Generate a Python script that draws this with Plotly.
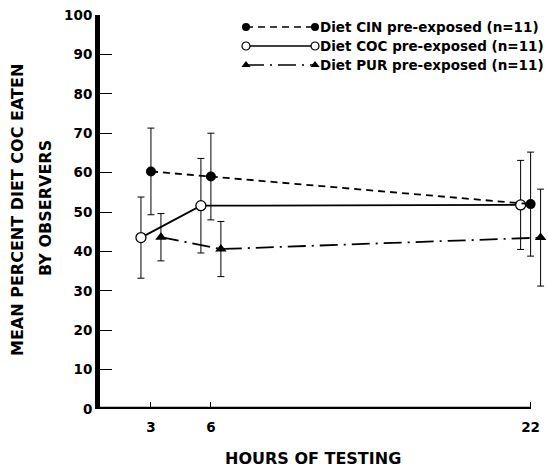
import plotly.graph_objects as go

# ---- data ----
hours = [3, 6, 22]
hour_labels = ["3", "6", "22"]

cin_mean = [60.3, 59.0, 52.0]
cin_err = [11.0, 11.0, 13.2]

coc_mean = [43.5, 51.6, 51.8]
coc_err = [10.3, 12.0, 11.3]

pur_mean = [43.6, 40.6, 43.5]
pur_err = [6.0, 7.0, 12.3]

y_ticks = list(range(0, 101, 10))

series_names = [
    "Diet CIN pre-exposed (n=11)",
    "Diet COC pre-exposed (n=11)",
    "Diet PUR pre-exposed (n=11)",
]

FONT = "DejaVu Sans"
BLACK = "#000000"
DASH_CIN = "7px,5px"
DASH_PUR = "18px,6px,2px,6px"

fig = go.Figure()

common_err = dict(type="data", visible=True, color=BLACK, thickness=1, width=3.5)

# order: COC (left), CIN (center), PUR (right) within each hour group
fig.add_trace(go.Scatter(
    x=hours, y=coc_mean, name=series_names[1], mode="lines+markers",
    line=dict(color=BLACK, width=1.8, dash="solid"),
    marker=dict(symbol="circle", size=10, color="white", line=dict(color=BLACK, width=1.3)),
    error_y=dict(array=coc_err, **common_err),
    offsetgroup="coc", alignmentgroup="g", showlegend=False, cliponaxis=False,
))
fig.add_trace(go.Scatter(
    x=hours, y=cin_mean, name=series_names[0], mode="lines+markers",
    line=dict(color=BLACK, width=1.8, dash=DASH_CIN),
    marker=dict(symbol="circle", size=10, color=BLACK),
    error_y=dict(array=cin_err, **common_err),
    offsetgroup="cin", alignmentgroup="g", showlegend=False, cliponaxis=False,
))
fig.add_trace(go.Scatter(
    x=hours, y=pur_mean, name=series_names[2], mode="lines+markers",
    line=dict(color=BLACK, width=1.8, dash=DASH_PUR),
    marker=dict(symbol="triangle-up", size=10, color=BLACK),
    error_y=dict(array=pur_err, **common_err),
    offsetgroup="pur", alignmentgroup="g", showlegend=False, cliponaxis=False,
))

# ---- custom legend drawn on an overlay axis in page-pixel units ----
leg_rows = [27, 46, 65]
leg_x0, leg_x1, leg_text_x = 246, 315, 318
leg_styles = [
    dict(line=dict(color=BLACK, width=1.5, dash=DASH_CIN),
         marker=dict(symbol="circle", size=8, color=BLACK)),
    dict(line=dict(color=BLACK, width=1.5, dash="solid"),
         marker=dict(symbol="circle", size=8, color="white", line=dict(color=BLACK, width=1.2))),
    dict(line=dict(color=BLACK, width=1.5, dash=DASH_PUR),
         marker=dict(symbol="triangle-up", size=8, color=BLACK)),
]
for row_y, style, label in zip(leg_rows, leg_styles, series_names):
    fig.add_trace(go.Scatter(
        x=[leg_x0, leg_x1], y=[row_y, row_y], mode="lines+markers",
        xaxis="x2", yaxis="y2", showlegend=False, hoverinfo="skip",
        offsetgroup="leg", alignmentgroup="leg",
        cliponaxis=False, **style,
    ))
    fig.add_annotation(
        x=leg_text_x, y=row_y, xref="x2", yref="y2", text=label,
        showarrow=False, xanchor="left", yanchor="middle",
        font=dict(family=FONT, size=13.5, color=BLACK, weight="bold"),
    )

x_range = [0.45, 22.77]

# bottom axis line ends at the 22-hour tick
fig.add_shape(type="line", xref="x", yref="y", x0=x_range[0] - 0.12, x1=hours[-1],
              y0=0, y1=0, line=dict(color=BLACK, width=4.5), layer="above")

fig.update_layout(
    width=548, height=469,
    margin=dict(l=100, r=2, t=15, b=60, pad=0),
    paper_bgcolor="white", plot_bgcolor="white",
    scattermode="group", scattergap=0.5,
    font=dict(family=FONT, color=BLACK, weight="bold"),
    showlegend=False,
    xaxis=dict(
        range=x_range, tickvals=hours, ticktext=hour_labels,
        showgrid=False, zeroline=False, showline=False,
        ticks="inside", ticklen=7, tickwidth=1, tickcolor=BLACK,
        tickfont=dict(family=FONT, size=13.5, color=BLACK, weight="bold"),
        ticklabelstandoff=8,
    ),
    yaxis=dict(
        range=[0, 100], tickvals=y_ticks,
        showgrid=False, zeroline=False, showline=True, linewidth=5, linecolor=BLACK,
        ticks="inside", ticklen=12, tickwidth=1, tickcolor=BLACK,
        tickfont=dict(family=FONT, size=13.5, color=BLACK, weight="bold"),
        ticklabelstandoff=0,
    ),
    xaxis2=dict(overlaying="x", anchor="y2", range=[100, 546], visible=False, fixedrange=True),
    yaxis2=dict(overlaying="y", anchor="x2", range=[409, 15], visible=False, fixedrange=True),
)

title_font = dict(family=FONT, size=16, color=BLACK, weight="bold")
# y-axis title (two lines, rotated), positioned in paper units
fig.add_annotation(x=(17 - 100) / 446, y=(409 - 210) / 394, xref="paper", yref="paper",
                   text="MEAN PERCENT DIET COC EATEN", textangle=-90, showarrow=False,
                   xanchor="center", yanchor="middle", font=title_font)
fig.add_annotation(x=(45 - 100) / 446, y=(409 - 208) / 394, xref="paper", yref="paper",
                   text="BY OBSERVERS", textangle=-90, showarrow=False,
                   xanchor="center", yanchor="middle", font=title_font)
# x-axis title
fig.add_annotation(x=(313 - 100) / 446, y=(409 - 458) / 394, xref="paper", yref="paper",
                   text="HOURS OF TESTING", showarrow=False,
                   xanchor="center", yanchor="middle", font=title_font)

fig.write_html("out.html", config={"displayModeBar": False},
               post_script="document.body.style.margin='0';")
